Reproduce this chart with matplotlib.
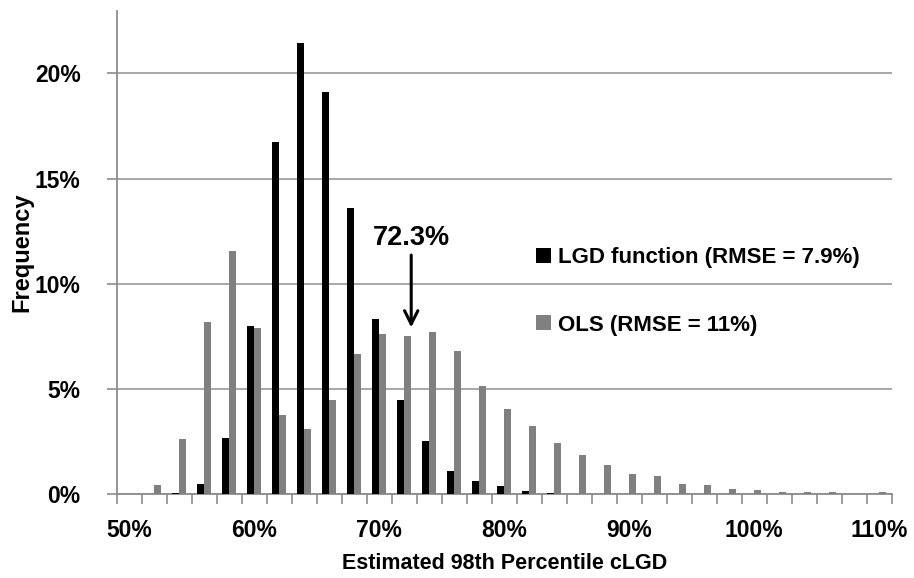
import matplotlib.pyplot as plt
import numpy as np

# bins of estimated 98th percentile cLGD (2% wide)
bins = [50, 52, 54, 56, 58, 60, 62, 64, 66, 68, 70, 72, 74, 76, 78, 80,
        82, 84, 86, 88, 90, 92, 94, 96, 98, 100, 102, 104, 106, 108, 110]

# frequencies in %
lgd_function = [0.0, 0.0, 0.05, 0.51, 2.70, 8.02, 16.74, 21.45, 19.10, 13.62, 8.33,
                4.49, 2.54, 1.12, 0.66, 0.42, 0.16, 0.06, 0.03, 0.0, 0.0,
                0.0, 0.0, 0.0, 0.0, 0.0, 0.0, 0.0, 0.0, 0.0, 0.0]
ols = [0.0, 0.45, 2.64, 8.18, 11.58, 7.92, 3.77, 3.11, 4.49, 6.66, 7.62,
       7.53, 7.70, 6.81, 5.17, 4.07, 3.25, 2.43, 1.89, 1.42, 0.97,
       0.88, 0.51, 0.47, 0.26, 0.21, 0.12, 0.11, 0.10, 0.04, 0.10]

tick_labels = ["50%", "60%", "70%", "80%", "90%", "100%", "110%"]

legend_labels = ["LGD function (RMSE = 7.9%)", "OLS (RMSE = 11%)"]
mean_label = "72.3%"
mean_value = 72.3

plt.rcParams['font.family'] = ['Liberation Sans', 'DejaVu Sans']
plt.rcParams['font.weight'] = 'bold'


def main():
    fig = plt.figure(figsize=(9.14, 5.78), dpi=100)
    ax = fig.add_axes([0.1277, 0.1445, 0.8479, 0.8365])

    x = np.arange(len(bins))
    w = 0.28
    b1 = ax.bar(x - w / 2, lgd_function, width=w, color="black", zorder=3)
    b2 = ax.bar(x + w / 2, ols, width=w, color="#808080", zorder=3)

    ax.set_xlim(-0.5, len(bins) - 0.5)
    ax.set_ylim(0, 22.96)

    # category boundaries as ticks, labels every 10%
    ax.set_xticks(np.arange(len(bins) + 1) - 0.5)
    ax.set_xticklabels([])
    label_pos = [bins.index(int(t.rstrip('%'))) for t in tick_labels]
    ax.set_xticks(label_pos, minor=True)
    ax.set_xticklabels(tick_labels, minor=True)
    ax.tick_params(axis='x', which='major', length=7, width=1.2, color="#8c8c8c")
    ax.tick_params(axis='x', which='minor', length=0, pad=18, labelsize=16.5)

    ax.set_yticks([0, 5, 10, 15, 20])
    ax.set_yticklabels(["0%", "5%", "10%", "15%", "20%"])
    ax.tick_params(axis='y', length=7, width=1.2, color="#8c8c8c", labelsize=16.5, pad=19)

    ax.yaxis.grid(True, color="#a0a0a0", linewidth=1.3, zorder=0)
    ax.set_axisbelow(True)
    for side in ["top", "right"]:
        ax.spines[side].set_visible(False)
    for side in ["left", "bottom"]:
        ax.spines[side].set_color("#8c8c8c")
        ax.spines[side].set_linewidth(1.3)

    ax.set_xlabel("Estimated 98th Percentile cLGD", fontsize=15.5, fontweight='bold')
    ax.set_ylabel("Frequency", fontsize=17, fontweight='bold')
    ax.xaxis.set_label_coords(0.501, -0.122)
    ax.yaxis.set_label_coords(-0.108, 0.5)

    # arrow at the mean of the OLS estimate
    xm = bins.index(72) + (mean_value - 72) / 2 + w / 2 - 0.01
    ax.annotate("", xy=(xm, 7.8), xytext=(xm, 11.5),
                arrowprops=dict(arrowstyle="->", color="black", lw=2.2, mutation_scale=24))
    ax.text(xm, 12.2, mean_label, ha='center', va='center', fontsize=19.5, fontweight='bold')

    ax.legend([b1, b2], legend_labels, loc='upper left', bbox_to_anchor=(0.541, 0.512),
              frameon=False, fontsize=16, handlelength=0.68, handleheight=0.68,
              handletextpad=0.3, labelspacing=2.1, borderaxespad=0, borderpad=0)

    fig.savefig("out.png", dpi=100)


if __name__ == "__main__":
    main()
